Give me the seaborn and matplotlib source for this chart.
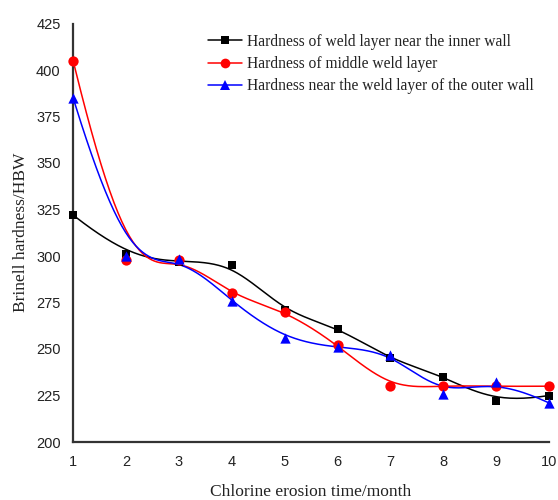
import numpy as np
import pandas as pd
import matplotlib
matplotlib.use("Agg")
import matplotlib.pyplot as plt
import seaborn as sns
from matplotlib.lines import Line2D

months = [1, 2, 3, 4, 5, 6, 7, 8, 9, 10]
inner_wall = [322, 301, 297, 295, 271, 261, 245, 235, 222, 225]
middle_layer = [405, 298, 298, 280, 270, 252, 230, 230, 230, 230]
outer_wall = [385, 300, 298.5, 276, 256, 251, 247, 226, 232, 221]
series_names = ["Hardness of weld layer near the inner wall",
                "Hardness of middle weld layer",
                "Hardness near the weld layer of the outer wall"]
colors = ["black", "red", "blue"]
markers = ["s", "o", "^"]
x_ticks = [1, 2, 3, 4, 5, 6, 7, 8, 9, 10]
y_ticks = [200, 225, 250, 275, 300, 325, 350, 375, 400, 425]


def bspline(xs, ys, k=3, num=400):
    P = np.column_stack([xs, ys]).astype(float)
    n = len(P)
    knots = np.concatenate([np.zeros(k), np.arange(n - k + 1), np.full(k, n - k)]).astype(float)
    t = np.linspace(0, n - k, num)
    t[-1] -= 1e-9

    def basis(i, p, tt):
        if p == 0:
            return ((knots[i] <= tt) & (tt < knots[i + 1])).astype(float)
        d1 = knots[i + p] - knots[i]
        d2 = knots[i + p + 1] - knots[i + 1]
        a = (tt - knots[i]) / d1 * basis(i, p - 1, tt) if d1 > 0 else 0
        b = (knots[i + p + 1] - tt) / d2 * basis(i + 1, p - 1, tt) if d2 > 0 else 0
        return a + b

    B = np.array([basis(i, k, t) for i in range(n)]).T
    C = B @ P
    return C[:, 0], C[:, 1]


def natural_spline(xs, ys, xq):
    x = np.asarray(xs, float)
    y = np.asarray(ys, float)
    n = len(x)
    h = np.diff(x)
    A = np.zeros((n, n))
    r = np.zeros(n)
    A[0, 0] = A[-1, -1] = 1
    for i in range(1, n - 1):
        A[i, i - 1] = h[i - 1]
        A[i, i] = 2 * (h[i - 1] + h[i])
        A[i, i + 1] = h[i]
        r[i] = 6 * ((y[i + 1] - y[i]) / h[i] - (y[i] - y[i - 1]) / h[i - 1])
    M = np.linalg.solve(A, r)
    idx = np.clip(np.searchsorted(x, xq) - 1, 0, n - 2)
    x0, x1 = x[idx], x[idx + 1]
    hh = x1 - x0
    a = (x1 - xq) / hh
    b = (xq - x0) / hh
    return (a * y[idx] + b * y[idx + 1]
            + ((a ** 3 - a) * M[idx] + (b ** 3 - b) * M[idx + 1]) * hh ** 2 / 6)


def smooth_curve(xs, ys, w=0.72):
    bx, by = bspline(xs, ys)
    iy = natural_spline(xs, ys, bx)
    return bx, w * by + (1 - w) * iy


sns.set_style("white")
plt.rcParams["font.family"] = ["Liberation Serif", "DejaVu Serif"]

fig = plt.figure(figsize=(5.58, 5.0), dpi=100)
ax = fig.add_axes([0.131, 0.116, 0.853, 0.837])

all_series = [inner_wall, middle_layer, outer_wall]
handles = []
for name, vals, c, m in zip(series_names, all_series, colors, markers):
    sx, sy = smooth_curve(months, vals)
    curve = pd.DataFrame({"x": sx, "y": sy})
    sns.lineplot(data=curve, x="x", y="y", ax=ax, color=c, lw=1.1, sort=False,
                 estimator=None)
    pts = pd.DataFrame({"x": months, "y": vals})
    sns.scatterplot(data=pts, x="x", y="y", ax=ax, color=c, marker=m,
                    s=55 if m != "s" else 40, edgecolor=c, linewidth=0, zorder=5,
                    clip_on=False)
    handles.append(Line2D([0], [0], color=c, marker=m, lw=1.1, markersize=7 if m != "s" else 6.3,
                          markeredgewidth=0))

ax.set_xlim(1, 10)
ax.set_ylim(200, 425)
ax.set_xticks(x_ticks)
ax.set_yticks(y_ticks)
for s in ["top", "right"]:
    ax.spines[s].set_visible(False)
for s in ["left", "bottom"]:
    ax.spines[s].set_linewidth(1.6)
    ax.spines[s].set_color("#333333")
ax.tick_params(axis="both", direction="in", length=5, width=1.4, color="#333333",
               labelsize=10.5, pad=9)
for lab in ax.get_xticklabels() + ax.get_yticklabels():
    lab.set_family(["Liberation Sans", "DejaVu Sans"])
    lab.set_color("#222222")

ax.set_xlabel("Chlorine erosion time/month", fontsize=12.5, color="#222222", labelpad=11)
ax.set_ylabel("Brinell hardness/HBW", fontsize=12.5, color="#222222", labelpad=5)

leg = ax.legend(handles, series_names, loc="upper left", bbox_to_anchor=(0.27, 0.99),
                frameon=False, fontsize=11.2, handlelength=2.2, handletextpad=0.3,
                labelspacing=0.4, borderaxespad=0)
for t in leg.get_texts():
    t.set_color("#222222")

fig.savefig("out.png", dpi=100)
